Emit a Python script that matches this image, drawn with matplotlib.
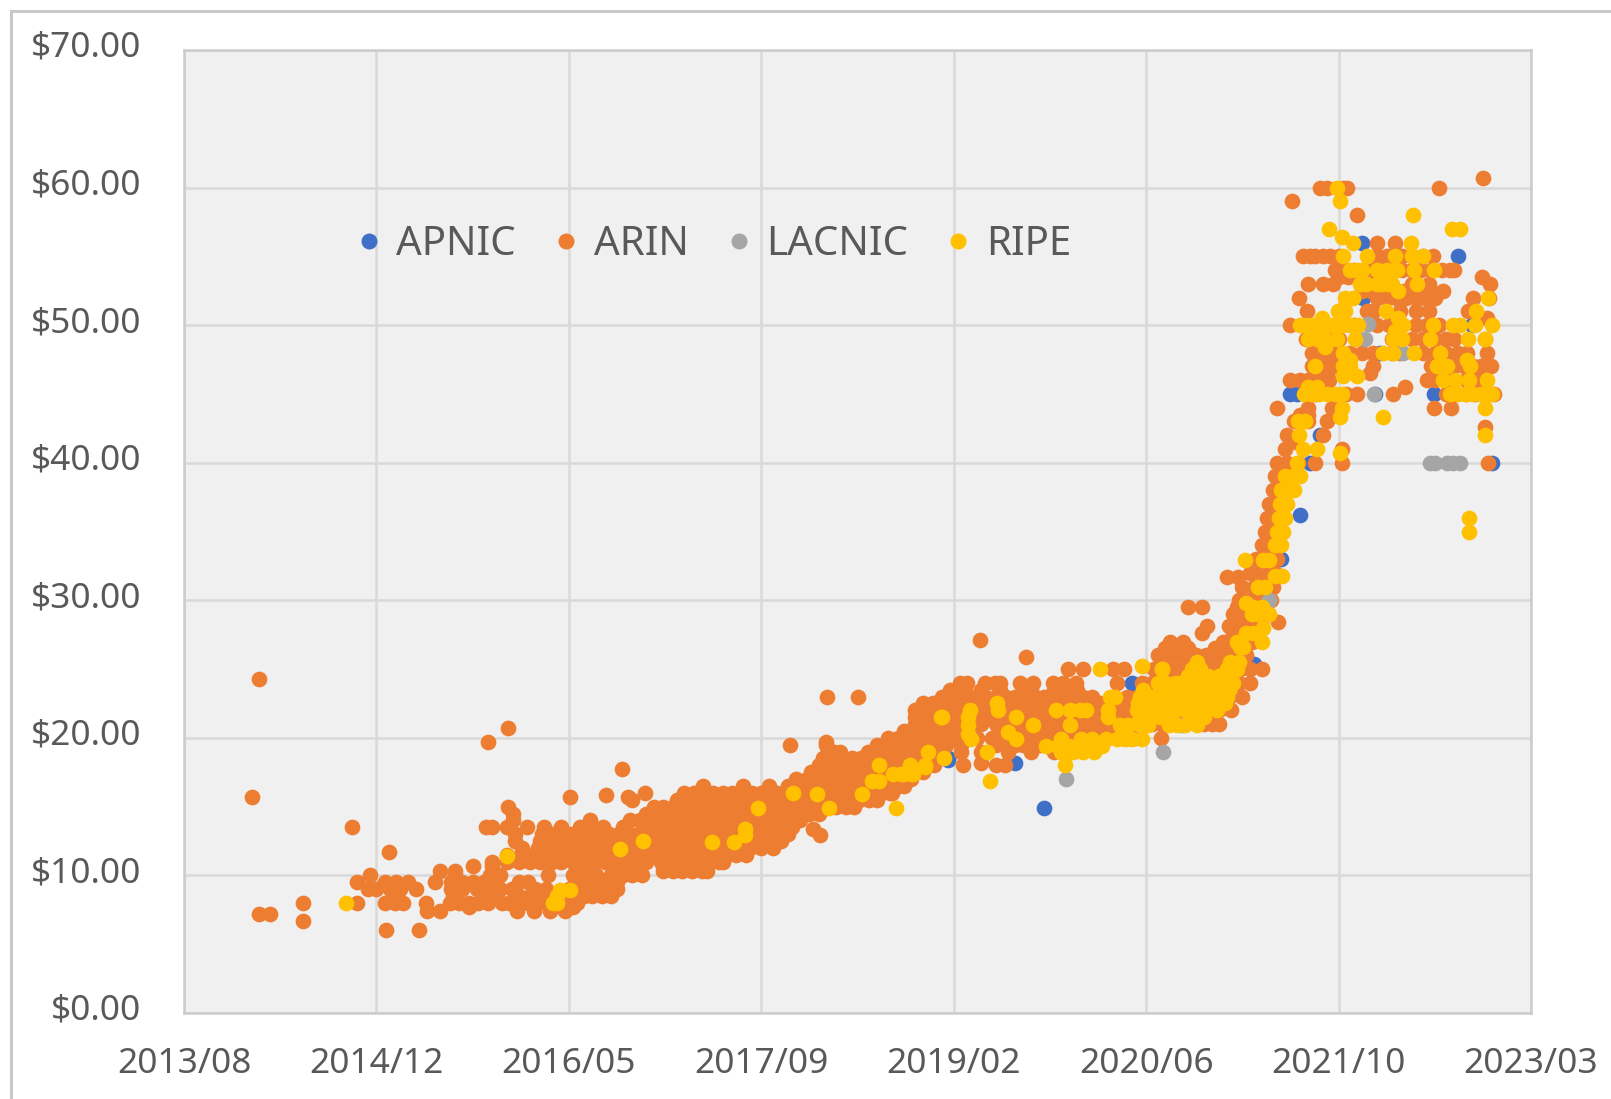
import matplotlib
matplotlib.use('Agg')
import matplotlib.pyplot as plt
from matplotlib.lines import Line2D
from matplotlib.transforms import ScaledTranslation

# x values are Excel date serials, each row is (price, [dates])
x_ticks = [41500, 42000, 42500, 43000, 43500, 44000, 44500, 45000]
x_labels = ['2013/08', '2014/12', '2016/05', '2017/09', '2019/02', '2020/06', '2021/10', '2023/03']
y_ticks = [0, 10, 20, 30, 40, 50, 60, 70]
y_labels = ['$0.00', '$10.00', '$20.00', '$30.00', '$40.00', '$50.00', '$60.00', '$70.00']

arin_early = [
    (24.3, [41696]), (15.7, [41676, 42503, 42654]), (15.85, [42596]), (17.7, [42638]),
    (6.0, [42025, 42110]), (6.7, [41808]), (7.2, [41696, 41723]),
    (13.55, [41937]), (11.7, [42033]), (19.7, [42291]), (20.75, [42341]),
    (7.4, [42132, 42165, 42364, 42409, 42452, 42490]),
    (7.7, [42240, 42510]),
    (8.0, [41808, 41949, 42022, 42048, 42070, 42130, 42190, 42215, 42240, 42265, 42290, 42325, 42345, 42370, 42395, 42420, 42445, 42470, 42495, 42520]),
    (8.5, [42200, 42280, 42310, 42370, 42400, 42430, 42460, 42490, 42510, 42540, 42560, 42585, 42610]),
    (9.0, [41979, 42000, 42035, 42061, 42104, 42195, 42222, 42262, 42290, 42320, 42352, 42412, 42440, 42500, 42525, 42550, 42575, 42600, 42625]),
    (9.5, [41949, 42022, 42052, 42083, 42152, 42195, 42222, 42250, 42280, 42310, 42370, 42395, 42515, 42545, 42570, 42600, 42625]),
    (10.0, [41983, 42204, 42295, 42320, 42446, 42510, 42540, 42570, 42610, 42640, 42665, 42690]),
    (10.3, [42165, 42204, 42520, 42555, 42620, 42745, 42770, 42795, 42820, 42845, 42858]),
    (10.7, [42252, 42300, 42640, 42745, 42770, 42795, 42820, 42845]),
    (11.0, [42299, 42340, 42370, 42400, 42425, 42455, 42480, 42510, 42540, 42565, 42595, 42625, 42650, 42670, 42700, 42740, 42765, 42790, 42815, 42840, 42865, 42890, 42900]),
    (11.5, [42340, 42375, 42410, 42435, 42460, 42485, 42510, 42535, 42560, 42585, 42610, 42635, 42660, 42685, 42710, 42735, 42760, 42785, 42810, 42835, 42860, 42885, 42910, 42935, 42960]),
    (12.0, [42377, 42420, 42445, 42470, 42495, 42520, 42545, 42570, 42595, 42620, 42645, 42670, 42695, 42720, 42745, 42770, 42795, 42820, 42845, 42870, 42895, 42920, 42945, 42970, 43000, 43030]),
    (12.5, [42360, 42425, 42450, 42475, 42500, 42525, 42550, 42575, 42600, 42625, 42650, 42675, 42700, 42725, 42750, 42775, 42800, 42825, 42850, 42875, 42900, 42925, 42950, 42975, 43000, 43025, 43050]),
    (12.94, [43152]), (13.4, [43135]),
    (13.0, [42360, 42430, 42455, 42480, 42505, 42530, 42555, 42580, 42605, 42630, 42655, 42680, 42705, 42730, 42755, 42780, 42805, 42830, 42855, 42880, 42905, 42930, 42955, 42980, 43005, 43030, 43055, 43070]),
    (13.5, [42286, 42299, 42338, 42390, 42435, 42480, 42530, 42555, 42590, 42640, 42700, 42725, 42750, 42775, 42800, 42825, 42850, 42875, 42900, 42925, 42950, 42975, 43000, 43025, 43050, 43080]),
    (14.0, [42356, 42555, 42660, 42685, 42710, 42735, 42760, 42785, 42810, 42835, 42860, 42885, 42910, 42935, 42960, 42985, 43010, 43035, 43060, 43085, 43100]),
    (14.5, [42356, 42700, 42725, 42750, 42775, 42800, 42825, 42850, 42875, 42900, 42925, 42950, 42975, 43000, 43025, 43050, 43075, 43100, 43125, 43150]),
    (15.0, [42343, 42720, 42745, 42770, 42795, 42820, 42845, 42870, 42895, 42920, 42945, 42970, 42995, 43020, 43045, 43070, 43095, 43120, 43145, 43170, 43195, 43220, 43240]),
    (15.5, [42663, 42780, 42805, 42830, 42855, 42880, 42905, 42930, 42955, 42980, 43005, 43030, 43055, 43080, 43105, 43130, 43155, 43180, 43205, 43230, 43255, 43280, 43300]),
    (16.0, [42698, 42800, 42825, 42849, 42875, 42900, 42925, 42950, 42975, 43000, 43040, 43060, 43085, 43110, 43135, 43160, 43185, 43210, 43235, 43260, 43285, 43310, 43340]),
    (16.5, [42849, 42953, 43020, 43070, 43095, 43120, 43145, 43170, 43195, 43220, 43245, 43270, 43295, 43320, 43345, 43370]),
]

arin_2018 = [
    (16.0, [43308, 43334]), (16.4, [43320, 43351]),
    (17.0, [43090, 43120, 43145, 43170, 43195, 43220, 43245, 43270, 43295, 43320, 43345, 43370, 43390]),
    (17.5, [43130, 43155, 43180, 43210, 43240, 43270, 43295, 43320, 43345, 43370, 43395, 43420]),
    (18.0, [43150, 43175, 43200, 43225, 43255, 43280, 43305, 43330, 43355, 43380, 43405, 43430, 43450, 43524, 43611, 43633]),
    (18.2, [43572]),
    (18.5, [43160, 43185, 43210, 43235, 43260, 43290, 43315, 43340, 43365, 43390, 43415, 43440, 43460]),
    (19.0, [43190, 43205, 43278, 43300, 43325, 43350, 43375, 43400, 43425, 43450, 43470, 43520, 43570, 43640, 43700, 43760, 43800]),
    (19.5, [43075, 43167, 43300, 43335, 43360, 43385, 43410, 43435, 43460, 43480, 43520, 43610, 43635, 43660, 43680, 43700, 43725, 43750, 43775, 43800, 43825, 43860]),
    (19.7, [43167]),
    (22.95, [43170, 43250]),
    (20.0, [43330, 43355, 43380, 43405, 43430, 43455, 43490, 43530, 43560, 43600, 43625, 43650, 43675, 43700, 43725, 43750, 43775, 43800, 43825, 43850, 43875, 43900, 43925, 43950, 43970, 44038]),
    (20.5, [43370, 43395, 43420, 43445, 43470, 43500, 43525, 43550, 43620, 43645, 43670, 43695, 43720, 43745, 43770, 43795, 43820, 43845, 43870, 43900]),
    (21.0, [43400, 43425, 43450, 43475, 43500, 43525, 43550, 43570, 43610, 43635, 43660, 43685, 43710, 43735, 43760, 43785, 43810, 43835, 43860, 43885, 43910, 43935, 43960, 43985, 44000]),
    (21.5, [43400, 43425, 43450, 43475, 43500, 43525, 43550, 43575, 43600, 43625, 43650, 43675, 43700, 43725, 43750, 43775, 43800, 43825, 43850, 43875, 43900, 43925, 43950, 43975, 43990]),
    (22.0, [43400, 43416, 43440, 43465, 43490, 43515, 43540, 43565, 43590, 43615, 43640, 43665, 43690, 43715, 43740, 43765, 43790, 43815, 43840, 43865, 43900, 43940, 43965, 43990]),
    (22.5, [43420, 43445, 43470, 43495, 43520, 43560, 43585, 43610, 43635, 43660, 43685, 43710, 43735, 43760, 43785, 43810, 43835, 43860, 43880, 43930, 43955, 43980, 44000]),
    (23.0, [43470, 43495, 43530, 43560, 43585, 43610, 43635, 43660, 43685, 43710, 43735, 43760, 43785, 43810, 43835, 43860, 43950, 43975, 44000]),
    (23.5, [43490, 43530, 43570, 43620, 43680, 43700, 43760, 43790, 43820]),
    (24.0, [43516, 43535, 43581, 43607, 43620, 43672, 43706, 43757, 43784, 43819, 43925]),
    (25.0, [43796, 43836, 43914, 43943]),
    (25.9, [43689]), (27.1, [43568]),
]

arin_2020 = [
    (21.0, [43990, 44015, 44040, 44150, 44170, 44190]),
    (22.0, [43990, 44015, 44040, 44065, 44090, 44115, 44140, 44165, 44190, 44220]),
    (23.0, [43990, 44015, 44040, 44065, 44090, 44115, 44140, 44165, 44190, 44215, 44250]),
    (24.0, [43990, 44015, 44040, 44065, 44090, 44115, 44140, 44165, 44190, 44215, 44240, 44270]),
    (25.0, [44020, 44045, 44070, 44095, 44120, 44145, 44170, 44195, 44220, 44245, 44270, 44300]),
    (26.0, [44030, 44055, 44080, 44105, 44130, 44155, 44180, 44200, 44230, 44260]),
    (26.5, [44050, 44080, 44110, 44180, 44215, 44250]),
    (27.0, [44061, 44096, 44200, 44225, 44250, 44275]),
    (27.6, [44144, 44225, 44265, 44290]),
    (28.1, [44157, 44215, 44240, 44270, 44300]),
    (28.4, [44342]),
    (29.0, [44225, 44250, 44275, 44290, 44315]),
    (29.5, [44109, 44144, 44235, 44265, 44300]),
    (30.0, [44240, 44270, 44300, 44325]),
    (31.0, [44250, 44280, 44310, 44330]),
    (31.7, [44211, 44238]),
    (32.0, [44270, 44295, 44320, 44335]),
    (33.0, [44285, 44305, 44325, 44340]),
    (34.0, [44300, 44320, 44340]),
    (35.0, [44310, 44325, 44345]),
    (36.0, [44315, 44335, 44350]),
    (37.0, [44320, 44340, 44360]),
    (38.0, [44330, 44350, 44375]),
    (39.0, [44335, 44355, 44380]),
]

arin_2021 = [
    (40.0, [44340, 44365, 44395, 44439, 44510, 44889]),
    (41.0, [44360, 44508]),
    (41.5, [44390]),
    (42.0, [44367, 44460]),
    (42.6, [44880]),
    (43.0, [44385, 44420, 44469]),
    (43.5, [44400, 44420]),
    (44.0, [44339, 44420, 44482, 44749, 44791]),
    (45.0, [44440, 44480, 44520, 44547, 44642, 44780, 44805, 44830, 44855, 44880, 44905]),
    (45.5, [44672]),
    (46.0, [44375, 44400, 44420, 44450, 44475, 44730, 44750, 44790, 44830, 44860]),
    (46.5, [44440, 44470, 44582]),
    (47.0, [44430, 44460, 44490, 44590, 44740, 44770, 44800, 44825, 44850, 44870, 44895]),
    (47.5, [44445, 44475, 44755, 44785]),
    (48.0, [44430, 44460, 44490, 44530, 44560, 44590, 44640, 44660, 44720, 44750, 44780, 44810, 44835, 44885]),
    (49.0, [44415, 44440, 44470, 44500, 44640, 44690, 44720, 44750, 44780, 44800, 44880]),
    (50.0, [44374, 44440, 44540, 44600, 44630, 44660, 44700, 44730, 44760]),
    (50.5, [44885]),
    (51.0, [44417, 44500, 44573, 44590, 44660, 44700, 44736, 44837]),
    (52.0, [44398, 44600, 44625, 44650, 44675, 44700, 44725, 44750, 44850, 44890]),
    (52.5, [44772, 44560, 44585, 44610, 44640, 44670, 44705, 44740]),
    (53.0, [44421, 44460, 44486, 44560, 44590, 44620, 44690, 44735, 44893]),
    (53.5, [44872, 44500, 44525]),
    (54.0, [44490, 44505, 44520, 44540, 44565, 44590, 44615, 44640, 44665, 44690, 44715, 44740, 44770, 44790, 44800]),
    (55.0, [44408, 44425, 44439, 44460, 44478, 44500, 44600, 44625, 44642, 44665, 44690, 44720, 44746]),
    (56.0, [44599, 44647]),
    (58.0, [44547]), (59.0, [44378]),
    (60.0, [44452, 44469, 44512, 44521, 44762]),
    (60.7, [44876]),
]

ripe_early = [
    (8.0, [41921, 42460, 42470]), (8.5, [42470]), (8.95, [42477, 42503]), (11.4, [42338]),
    (11.95, [42634]), (12.5, [42692]), (12.4, [42873, 42929]), (12.94, [42958]), (13.4, [42958]),
    (14.9, [42992, 43177, 43349]), (16.0, [43083]), (15.9, [43144, 43261]),
    (16.9, [43287, 43307, 43594]), (18.0, [43307, 43425]),
    (17.4, [43343, 43364, 43369, 43395, 43390]), (17.9, [43386, 43425]),
    (19.0, [43432, 43587]), (18.5, [43475]), (21.5, [43468, 43469, 43537, 43663]),
    (18.0, [43386]), (22.0, [43542, 43615, 43765, 43802, 43828, 43845, 43901]),
    (20.9, [43537, 43706, 43802, 43931, 43953, 43983, 44005]), (20.3, [43537]),
    (19.9, [43544, 43663, 43925, 43945, 43962, 43988]), (22.5, [43613]),
    (20.45, [43641]), (19.4, [43741, 43770, 43800, 43830, 43860, 43885]),
    (19.9, [43780, 43830, 43860, 43895]), (19.0, [43780, 43810, 43835, 43865]),
    (18.0, [43789]), (23.0, [43906, 43920]), (21.5, [43901]), (25.0, [43880, 44040]), (25.2, [43990]),
]

ripe_2020 = [
    (20.9, [44060, 44080, 44100, 44133]),
    (21.5, [43985, 44010, 44035, 44060, 44125, 44150]),
    (22.0, [43975, 44000, 44025, 44050, 44075, 44100, 44125, 44150, 44185]),
    (22.5, [43980, 44005, 44030, 44055, 44080, 44105, 44130, 44155, 44180, 44205]),
    (23.0, [43985, 44015, 44045, 44065, 44085, 44110, 44135, 44160, 44185, 44210]),
    (23.5, [43992, 44070, 44090, 44115, 44140, 44165, 44190, 44215]),
    (24.0, [44031, 44050, 44075, 44090, 44105, 44130, 44155, 44180, 44205, 44225]),
    (24.5, [44110, 44135, 44160, 44190, 44220]),
    (25.0, [44040, 44120, 44140, 44210, 44235]),
    (25.5, [44131, 44217, 44240]),
    (26.6, [44243, 44251]), (27.0, [44235, 44300]), (27.6, [44260, 44278]), (28.0, [44304]),
    (29.0, [44274, 44290, 44320]), (29.5, [44278, 44300]), (29.8, [44260]),
    (31.0, [44291, 44310]), (31.8, [44352, 44335]), (32.9, [44256, 44304, 44320]),
    (34.0, [44350, 44335]), (35.0, [44340, 44355]), (36.0, [44345, 44360]),
    (37.0, [44348, 44365]), (38.0, [44350, 44370, 44385]), (39.0, [44361, 44382, 44400]),
]

ripe_2021 = [
    (40.0, [44393]), (40.7, [44504]), (41.0, [44407, 44443]), (42.0, [44398, 44880]),
    (43.0, [44395, 44412]), (43.3, [44504, 44616]), (44.0, [44510, 44880]),
    (45.0, [44410, 44430, 44450, 44470, 44490, 44510, 44790, 44810, 44830, 44850, 44870, 44890, 44898]),
    (45.5, [44421, 44443]), (46.0, [44772, 44802, 44840, 44885]), (46.3, [44512, 44547]),
    (47.0, [44439, 44512, 44530, 44755, 44781, 44842]),
    (47.5, [44530, 44833]), (48.0, [44512, 44616, 44642, 44697, 44764]), (48.4, [44465]),
    (49.0, [44421, 44445, 44465, 44495, 44543, 44642, 44664, 44737, 44837, 44880]),
    (49.6, [44647]),
    (50.0, [44400, 44415, 44430, 44450, 44465, 44482, 44495, 44512, 44530, 44551, 44668, 44746, 44798, 44815, 44855, 44898]),
    (50.5, [44456, 44655]), (51.0, [44499, 44517, 44622, 44857]),
    (52.0, [44517, 44538, 44889]), (53.0, [44556, 44570, 44599, 44610, 44629, 44640, 44705]), (52.5, [44655]),
    (54.0, [44530, 44547, 44560, 44599, 44625, 44651, 44697, 44749]),
    (55.0, [44512, 44575, 44647, 44690, 44720]), (56.0, [44538, 44688]), (56.4, [44510]),
    (57.0, [44476, 44796, 44815]), (58.0, [44694]), (59.0, [44504]), (60.0, [44495]),
    (35.0, [44838]), (36.0, [44838]),
]

apnic_rows = [
    (14.9, [43735]), (18.2, [43660]), (18.4, [43486]), (18.5, [43486]), (20.8, [43685]),
    (24.0, [43964]), (25.4, [44280]), (22.9, [44213]), (33.0, [44350]), (36.2, [44400]),
    (40.0, [44426, 44898]), (42.0, [44452]), (45.0, [44374, 44391, 44595, 44748]),
    (48.0, [44608]), (50.0, [44846]), (51.0, [44590]), (52.0, [44564]), (55.0, [44811]), (56.0, [44560]),
]

lacnic_rows = [
    (17.0, [43793]), (19.0, [44044]), (20.9, [44093]), (30.0, [44320]),
    (40.0, [44738, 44750, 44781, 44798, 44815]), (45.0, [44593]), (48.0, [44668]),
    (49.0, [44569]), (50.1, [44576]),
]


def flatten(*groups):
    xs, ys = [], []
    for rows in groups:
        for price, dates in rows:
            for d in dates:
                xs.append(d)
                ys.append(price)
    return xs, ys


series = [
    ('APNIC', '#3F6FC6', flatten(apnic_rows)),
    ('ARIN', '#ED7D31', flatten(arin_early, arin_2018, arin_2020, arin_2021)),
    ('LACNIC', '#A5A5A5', flatten(lacnic_rows)),
    ('RIPE', '#FFC000', flatten(ripe_early, ripe_2020, ripe_2021)),
]

plt.rcParams['font.family'] = ['Noto Sans', 'DejaVu Sans']
text_color = '#595959'

fig = plt.figure(figsize=(16.11, 10.99), dpi=100)
ax = fig.add_axes([184 / 1611, 1 - 1013 / 1099, (1531 - 184) / 1611, (1013 - 50) / 1099])
ax.set_facecolor('#F0F0F0')

for name, color, (xs, ys) in series:
    ax.scatter(xs, ys, s=128, color=color, linewidths=0, label=name, zorder=3, clip_on=False)

ax.set_xlim(41500, 45000)
ax.set_ylim(0, 70)
ax.set_xticks(x_ticks)
ax.set_xticklabels(x_labels)
ax.set_yticks(y_ticks)
ax.set_yticklabels(y_labels)
ax.tick_params(length=0, labelsize=25.4, labelcolor=text_color)
ax.tick_params(axis='x', pad=24.5)
ax.tick_params(axis='y', pad=31)
# the y labels sit a little above their gridlines
lift = ScaledTranslation(0, 1.5 / 72, fig.dpi_scale_trans)
for label in ax.get_yticklabels():
    label.set_verticalalignment('center')
    label.set_transform(label.get_transform() + lift)
ax.grid(True, color='#D9D9D9', linewidth=1.8, zorder=0)
ax.set_axisbelow(True)
for spine in ax.spines.values():
    spine.set_color('#CCCCCC')
    spine.set_linewidth(1.8)

handles = [Line2D([], [], linestyle='none', marker='o', markersize=11.5, color=c, markeredgewidth=0)
           for _, c, _ in series]
ax.legend(handles, [s[0] for s in series], ncol=4, frameon=False, loc='center left',
          bbox_to_anchor=(0.1166, 0.7976), fontsize=29, labelcolor=text_color,
          handlelength=1.37, handletextpad=0.0, columnspacing=0.56, borderpad=0, borderaxespad=0)

# outer chart frame, runs off the right and bottom of the crop
fig.add_artist(Line2D([11 / 1611, 11 / 1611], [0, 1 - 11 / 1099], color='#C8C8C8', linewidth=2.2))
fig.add_artist(Line2D([11 / 1611, 1], [1 - 11 / 1099, 1 - 11 / 1099], color='#C8C8C8', linewidth=2.2))

fig.savefig('out.png', dpi=100, facecolor='white')
